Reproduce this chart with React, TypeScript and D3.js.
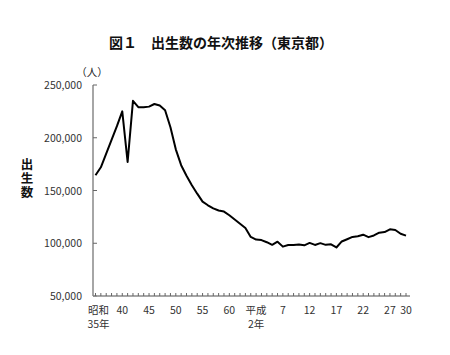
import React from "react";
import * as d3 from "d3";

const years: number[] = [
  1960, 1961, 1962, 1963, 1964, 1965, 1966, 1967, 1968, 1969,
  1970, 1971, 1972, 1973, 1974, 1975, 1976, 1977, 1978, 1979,
  1980, 1981, 1982, 1983, 1984, 1985, 1986, 1987, 1988, 1989,
  1990, 1991, 1992, 1993, 1994, 1995, 1996, 1997, 1998, 1999,
  2000, 2001, 2002, 2003, 2004, 2005, 2006, 2007, 2008, 2009,
  2010, 2011, 2012, 2013, 2014, 2015, 2016, 2017, 2018,
];
const births: number[] = [
  164500, 172000, 185000, 198000, 211000, 225000, 177000, 235000, 229000, 229000,
  229500, 232000, 230500, 226000, 210000, 189000, 174000, 164000, 155000, 147000,
  139500, 136000, 133000, 131000, 130000, 126500, 122500, 118500, 114500, 106000,
  103500, 103000, 101000, 98500, 101500, 96800, 98300, 98300, 98800, 98000,
  100300, 98400, 100100, 98500, 99000, 96000, 101700, 103800, 106000, 106600,
  108100, 105800, 107400, 110000, 110600, 113200, 112600, 109000, 107200,
];
const yTicks: number[] = [50000, 100000, 150000, 200000, 250000];
const xLabelYears: number[] = [1960, 1965, 1970, 1975, 1980, 1985, 1990, 1995, 2000, 2005, 2010, 2015, 2018];
const xLabels: string[][] = [
  ["昭和", "35年"], ["40"], ["45"], ["50"], ["55"], ["60"], ["平成", "2年"],
  ["7"], ["12"], ["17"], ["22"], ["27"], ["30"],
];
const title = "図１　出生数の年次推移（東京都）";
const yTitle = "出生数";
const unit = "（人）";

const W = 450;
const H = 355;
const axisX0 = 93;
const axisX1 = 410;
const axisY = 296;

export default function App() {
  const x = d3.scaleLinear().domain([1960, 2018]).range([95.5, 406]);
  const y = d3.scaleLinear().domain([50000, 250000]).range([axisY, 85]);
  const line = d3
    .line<number>()
    .x((_, i) => x(years[i]))
    .y((d) => y(d));
  const font = "'Noto Sans CJK JP', 'Noto Sans', sans-serif";
  const allYears = d3.range(1960, 2019);
  return (
    <svg
      width={W}
      height={H}
      style={{ position: "absolute", left: 0, top: 0, background: "#fff" }}
      fontFamily={font}
    >
      <rect width={W} height={H} fill="#fff" />
      <text x={221} y={48} textAnchor="middle" fontSize={14} fontWeight="bold" fill="#111">
        {title}
      </text>
      <text x={92} y={76} textAnchor="middle" fontSize={10.5} fill="#222">
        {unit}
      </text>
      <text
        x={27}
        y={179}
        textAnchor="middle"
        fontSize={12.5}
        fontWeight="bold"
        fill="#111"
        style={{ writingMode: "vertical-rl", letterSpacing: "1.5px" }}
      >
        {yTitle}
      </text>
      {/* y axis */}
      <line x1={axisX0} x2={axisX0} y1={y(250000)} y2={axisY} stroke="#888" strokeWidth={1.5} />
      {yTicks.map((t) => (
        <g key={t}>
          <line x1={axisX0} x2={axisX0 + 4} y1={y(t)} y2={y(t)} stroke="#666" strokeWidth={1} />
          <text x={82} y={y(t) + 4} textAnchor="end" fontSize={10.5} fill="#333">
            {d3.format(",")(t)}
          </text>
        </g>
      ))}
      {/* x axis */}
      <line x1={axisX0} x2={axisX1} y1={axisY} y2={axisY} stroke="#888" strokeWidth={1.5} />
      {allYears.map((yr) => (
        <line key={yr} x1={x(yr)} x2={x(yr)} y1={axisY} y2={axisY - 3} stroke="#666" strokeWidth={1} />
      ))}
      {xLabelYears.map((yr, i) => (
        <g key={yr}>
          {xLabels[i].map((s, j) => (
            <text
              key={j}
              x={x(yr) + (i === 0 ? 3 : 0)}
              y={314 + j * 14}
              textAnchor="middle"
              fontSize={10.5}
              fill="#333"
            >
              {s}
            </text>
          ))}
        </g>
      ))}
      <path d={line(births) || ""} fill="none" stroke="#000" strokeWidth={2} strokeLinejoin="round" />
    </svg>
  );
}
